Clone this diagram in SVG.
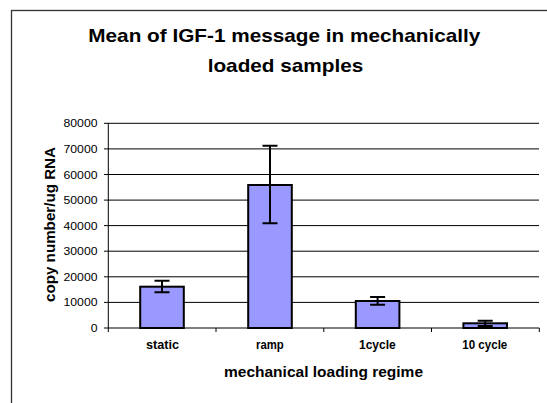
<svg xmlns="http://www.w3.org/2000/svg" width="547" height="403" viewBox="0 0 547 403">
<style>
text{font-family:"Liberation Sans",Arial,sans-serif;fill:#000}
.b{font-weight:bold}
.grid line{stroke:#000;stroke-width:1}
.bar{fill:#9999FF;stroke:#000;stroke-width:2}
.err{stroke:#000;stroke-width:2;fill:none}
.ax{stroke:#000;stroke-width:1;fill:none}
.tick{font-size:10.5px}
.cat{font-size:12px;font-weight:bold}
</style>
<rect x="0" y="0" width="547" height="403" fill="#fff"/>
<rect x="11.5" y="10.5" width="600" height="500" fill="#fff" stroke="#333" stroke-width="1.3"/>
<g id="title">
<text class="b" x="88.3" y="41.7" font-size="18.5" textLength="392" lengthAdjust="spacingAndGlyphs">Mean of IGF-1 message in mechanically</text>
<text class="b" x="207.7" y="71.7" font-size="18.5" textLength="155.6" lengthAdjust="spacingAndGlyphs">loaded samples</text>
</g>
<g id="gridlines" class="grid">
<line x1="108" y1="302.4" x2="539" y2="302.4"/>
<line x1="108" y1="276.8" x2="539" y2="276.8"/>
<line x1="108" y1="251.2" x2="539" y2="251.2"/>
<line x1="108" y1="225.6" x2="539" y2="225.6"/>
<line x1="108" y1="200.1" x2="539" y2="200.1"/>
<line x1="108" y1="174.5" x2="539" y2="174.5"/>
<line x1="108" y1="148.9" x2="539" y2="148.9"/>
<line x1="108" y1="123.3" x2="539" y2="123.3"/>
</g>
<g id="y-axis">
<path class="ax" d="M108.3 123.3V328M104 328H108.3M104 302.4H108.3M104 276.8H108.3M104 251.2H108.3M104 225.6H108.3M104 200.1H108.3M104 174.5H108.3M104 148.9H108.3M104 123.3H108.3"/>
<g class="tick" text-anchor="end">
<text x="97.5" y="332" textLength="6.8" lengthAdjust="spacingAndGlyphs">0</text>
<text x="97.5" y="306.4" textLength="34" lengthAdjust="spacingAndGlyphs">10000</text>
<text x="97.5" y="280.8" textLength="34" lengthAdjust="spacingAndGlyphs">20000</text>
<text x="97.5" y="255.2" textLength="34" lengthAdjust="spacingAndGlyphs">30000</text>
<text x="97.5" y="229.6" textLength="34" lengthAdjust="spacingAndGlyphs">40000</text>
<text x="97.5" y="204.1" textLength="34" lengthAdjust="spacingAndGlyphs">50000</text>
<text x="97.5" y="178.5" textLength="34" lengthAdjust="spacingAndGlyphs">60000</text>
<text x="97.5" y="152.9" textLength="34" lengthAdjust="spacingAndGlyphs">70000</text>
<text x="97.5" y="127.3" textLength="34" lengthAdjust="spacingAndGlyphs">80000</text>
</g>
<text class="b" transform="translate(55,224.5) rotate(-90)" text-anchor="middle" font-size="15" textLength="155" lengthAdjust="spacingAndGlyphs">copy number/ug RNA</text>
</g>
<g id="x-axis">
<path class="ax" d="M108.3 328H539.3M108.3 328V332M216 328V332M323.8 328V332M431.5 328V332M539.3 328V332"/>
<text class="b" x="224" y="376.5" font-size="15" textLength="199" lengthAdjust="spacingAndGlyphs">mechanical loading regime</text>
</g>
<g id="bar-static">
<rect class="bar" x="140.2" y="286.7" width="43.6" height="41.3"/>
<path class="err" d="M162 280.7V292.3M154.5 280.7H169.5M154.5 292.3H169.5"/>
<text class="cat" x="146" y="349.3" textLength="33" lengthAdjust="spacingAndGlyphs">static</text>
</g>
<g id="bar-ramp">
<rect class="bar" x="248.2" y="185" width="43.6" height="143"/>
<path class="err" d="M270 145.7V223.3M262.5 145.7H277.5M262.5 223.3H277.5"/>
<text class="cat" x="256" y="349.3" textLength="27.7" lengthAdjust="spacingAndGlyphs">ramp</text>
</g>
<g id="bar-1cycle">
<rect class="bar" x="355.8" y="301" width="43.6" height="27"/>
<path class="err" d="M377.6 297V304.7M370.1 297H385.1M370.1 304.7H385.1"/>
<text class="cat" x="359" y="349.3" textLength="36.7" lengthAdjust="spacingAndGlyphs">1cycle</text>
</g>
<g id="bar-10cycle">
<rect class="bar" x="463.4" y="323.3" width="43.6" height="4.7"/>
<path class="err" d="M485.2 320.7V326M477.7 320.7H492.7M477.7 326H492.7"/>
<text class="cat" x="462.3" y="349.3" textLength="45" lengthAdjust="spacingAndGlyphs">10 cycle</text>
</g>
</svg>
